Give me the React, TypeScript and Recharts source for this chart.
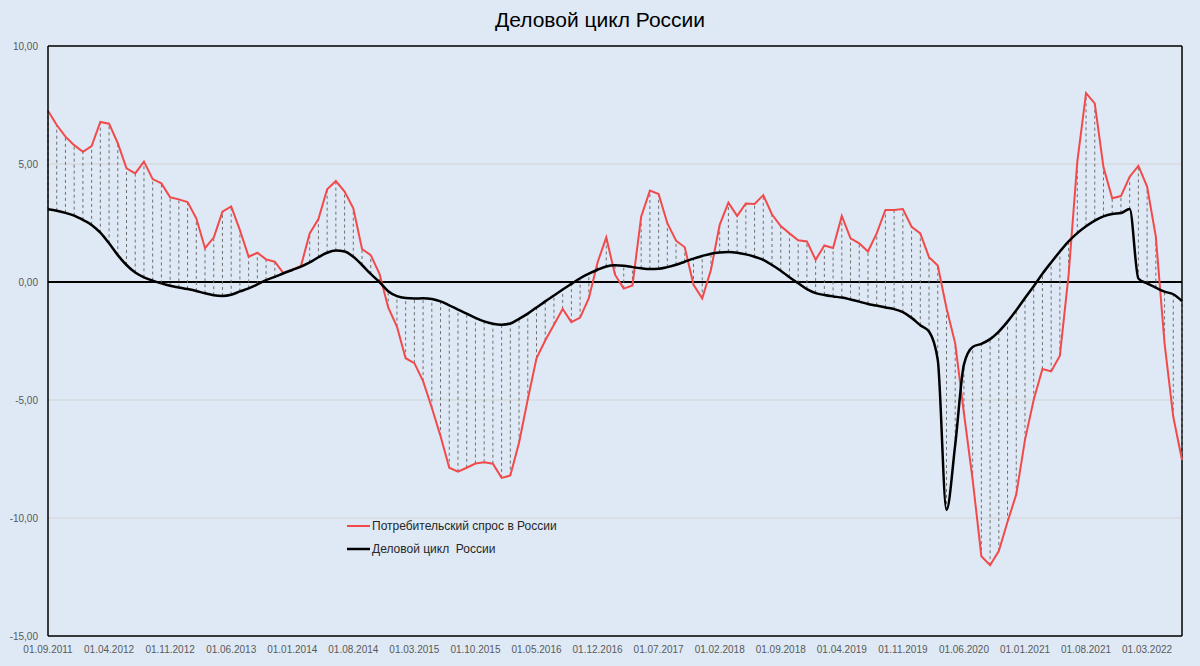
import { LineChart, Line, XAxis, YAxis, CartesianGrid, ReferenceLine, ErrorBar } from "recharts"

// monthly observations, 01.09.2011 .. 01.07.2022
const months: string[] = Array.from({ length: 131 }, (_, i) => {
  const m = ((8 + i) % 12) + 1
  const y = 2011 + Math.floor((8 + i) / 12)
  return `01.${m < 10 ? "0" + m : m}.${y}`
})

// Потребительский спрос в России
const demand = [
  7.26, 6.65, 6.16, 5.8, 5.52, 5.76, 6.78, 6.71, 5.88, 4.82,
  4.6, 5.1, 4.36, 4.18, 3.59, 3.5, 3.39, 2.7, 1.43, 1.88,
  2.98, 3.2, 2.2, 1.07, 1.24, 0.96, 0.86, 0.37, 0.52, 0.68,
  2.06, 2.67, 3.93, 4.28, 3.83, 3.12, 1.4, 1.14, 0.35, -1.08,
  -1.89, -3.23, -3.44, -4.2, -5.33, -6.53, -7.87, -8.04, -7.87, -7.69,
  -7.64, -7.7, -8.3, -8.2, -6.81, -4.98, -3.23, -2.48, -1.81, -1.14,
  -1.7, -1.51, -0.69, 0.83, 1.89, 0.31, -0.28, -0.15, 2.77, 3.87,
  3.73, 2.49, 1.75, 1.47, -0.12, -0.69, 0.52, 2.42, 3.36, 2.8,
  3.33, 3.31, 3.68, 2.86, 2.37, 2.06, 1.77, 1.72, 0.94, 1.55,
  1.44, 2.8, 1.85, 1.64, 1.29, 2.06, 3.05, 3.05, 3.09, 2.34,
  2.06, 1.05, 0.7, -1.1, -2.6, -5.56, -8.37, -11.62, -12.0, -11.4,
  -10.16, -9.0, -6.69, -4.99, -3.69, -3.79, -3.12, 0.3, 5.1, 8.0,
  7.57, 4.86, 3.55, 3.64, 4.46, 4.92, 4.04, 1.92, -2.6, -5.71,
  -7.54,
]

// Деловой цикл России
const cycle = [
  3.08, 3.02, 2.93, 2.81, 2.63, 2.42, 2.09, 1.64, 1.14, 0.72,
  0.4, 0.2, 0.06, -0.06, -0.16, -0.23, -0.3, -0.38, -0.48, -0.56,
  -0.59, -0.54, -0.4, -0.27, -0.1, 0.08, 0.22, 0.37, 0.51, 0.65,
  0.83, 1.05, 1.24, 1.33, 1.29, 1.07, 0.72, 0.34, 0.0, -0.39,
  -0.6, -0.68, -0.7, -0.69, -0.72, -0.82, -0.99, -1.17, -1.34, -1.52,
  -1.67, -1.77, -1.81, -1.76, -1.56, -1.34, -1.08, -0.82, -0.57, -0.32,
  -0.08, 0.16, 0.35, 0.52, 0.66, 0.71, 0.69, 0.63, 0.58, 0.55,
  0.56, 0.63, 0.73, 0.86, 0.99, 1.1, 1.2, 1.25, 1.27, 1.24,
  1.17, 1.07, 0.94, 0.72, 0.48, 0.2, -0.05, -0.3, -0.47, -0.55,
  -0.61, -0.66, -0.74, -0.83, -0.93, -1.0, -1.08, -1.15, -1.28, -1.52,
  -1.83, -2.1, -3.3, -9.66, -6.9, -3.5, -2.75, -2.62, -2.42, -2.1,
  -1.68, -1.2, -0.68, -0.18, 0.35, 0.83, 1.29, 1.72, 2.07, 2.36,
  2.6, 2.78, 2.88, 2.92, 3.09, 0.15, -0.06, -0.24, -0.41, -0.52,
  -0.81,
]

const yTicks = [-15, -10, -5, 0, 5, 10]
const xTicks = months.map((_, i) => i).filter((i) => i % 7 === 0)

const RED = "#f24a4a"
const FONT = "'Liberation Sans', Arial, sans-serif"

const data = months.map((date, i) => {
  const d = demand[i]
  const c = cycle[i]
  return {
    i,
    date,
    demand: d,
    cycle: c,
    // vertical drop line from the demand point to the cycle curve
    gap: d >= c ? [d - c, 0] : [0, c - d],
  }
})

const legendItems = [
  { label: "Потребительский спрос в России", color: RED, w: 2 },
  { label: "Деловой цикл  России", color: "#000", w: 2.5 },
]

function LegendBox() {
  return (
    <div style={{ position: "absolute", left: 345, top: 514, fontFamily: FONT, fontSize: 12, color: "#262626" }}>
      {legendItems.map((it) => (
        <div key={it.label} style={{ display: "flex", alignItems: "center", height: 23 }}>
          <svg width={27} height={10}>
            <line x1={2} y1={5} x2={25} y2={5} stroke={it.color} strokeWidth={it.w} />
          </svg>
          <span style={{ whiteSpace: "pre" }}>{it.label}</span>
        </div>
      ))}
    </div>
  )
}

export default function App() {
  const tick = { fontSize: 10, fill: "#595959", fontFamily: FONT }
  return (
    <div style={{ position: "fixed", left: 0, top: 0, width: 1200, height: 666, background: "#dee9f5" }}>
      <div
        style={{
          position: "absolute",
          top: 8,
          width: 1200,
          textAlign: "center",
          fontFamily: FONT,
          fontSize: 21,
          color: "#000",
        }}
      >
        Деловой цикл России
      </div>
      <LineChart width={1200} height={666} data={data} margin={{ top: 46, right: 18, bottom: 6, left: 8 }}>
        <CartesianGrid horizontal vertical={false} stroke="#d3d3d3" />
        <XAxis
          dataKey="i"
          type="number"
          domain={[0, 130]}
          ticks={xTicks}
          tickFormatter={(v: number) => months[v]}
          interval={0}
          height={24}
          tickSize={0}
          tickMargin={10}
          tick={tick}
          axisLine={{ stroke: "#000", strokeWidth: 1.5 }}
        />
        <YAxis
          type="number"
          domain={[-15, 10]}
          ticks={yTicks}
          allowDataOverflow
          width={40}
          tickSize={0}
          tickMargin={10}
          tick={tick}
          tickFormatter={(v: number) => v.toFixed(2).replace(".", ",")}
          axisLine={{ stroke: "#000", strokeWidth: 1.5 }}
        />
        <ReferenceLine y={10} stroke="#000" strokeWidth={1.5} />
        <ReferenceLine x={130} stroke="#000" strokeWidth={1.5} />
        <ReferenceLine y={0} stroke="#000" strokeWidth={2} />
        <Line
          dataKey="demand"
          name="Потребительский спрос в России"
          type="linear"
          stroke={RED}
          strokeWidth={2}
          dot={false}
          isAnimationActive={false}
        >
          <ErrorBar
            dataKey="gap"
            direction="y"
            width={0}
            stroke="#6f6f6f"
            strokeWidth={1}
            strokeDasharray="3 3"
            isAnimationActive={false}
          />
        </Line>
        <Line
          dataKey="cycle"
          name="Деловой цикл  России"
          type="monotone"
          stroke="#000"
          strokeWidth={2.5}
          dot={false}
          isAnimationActive={false}
        />
      </LineChart>
      <LegendBox />
    </div>
  )
}
